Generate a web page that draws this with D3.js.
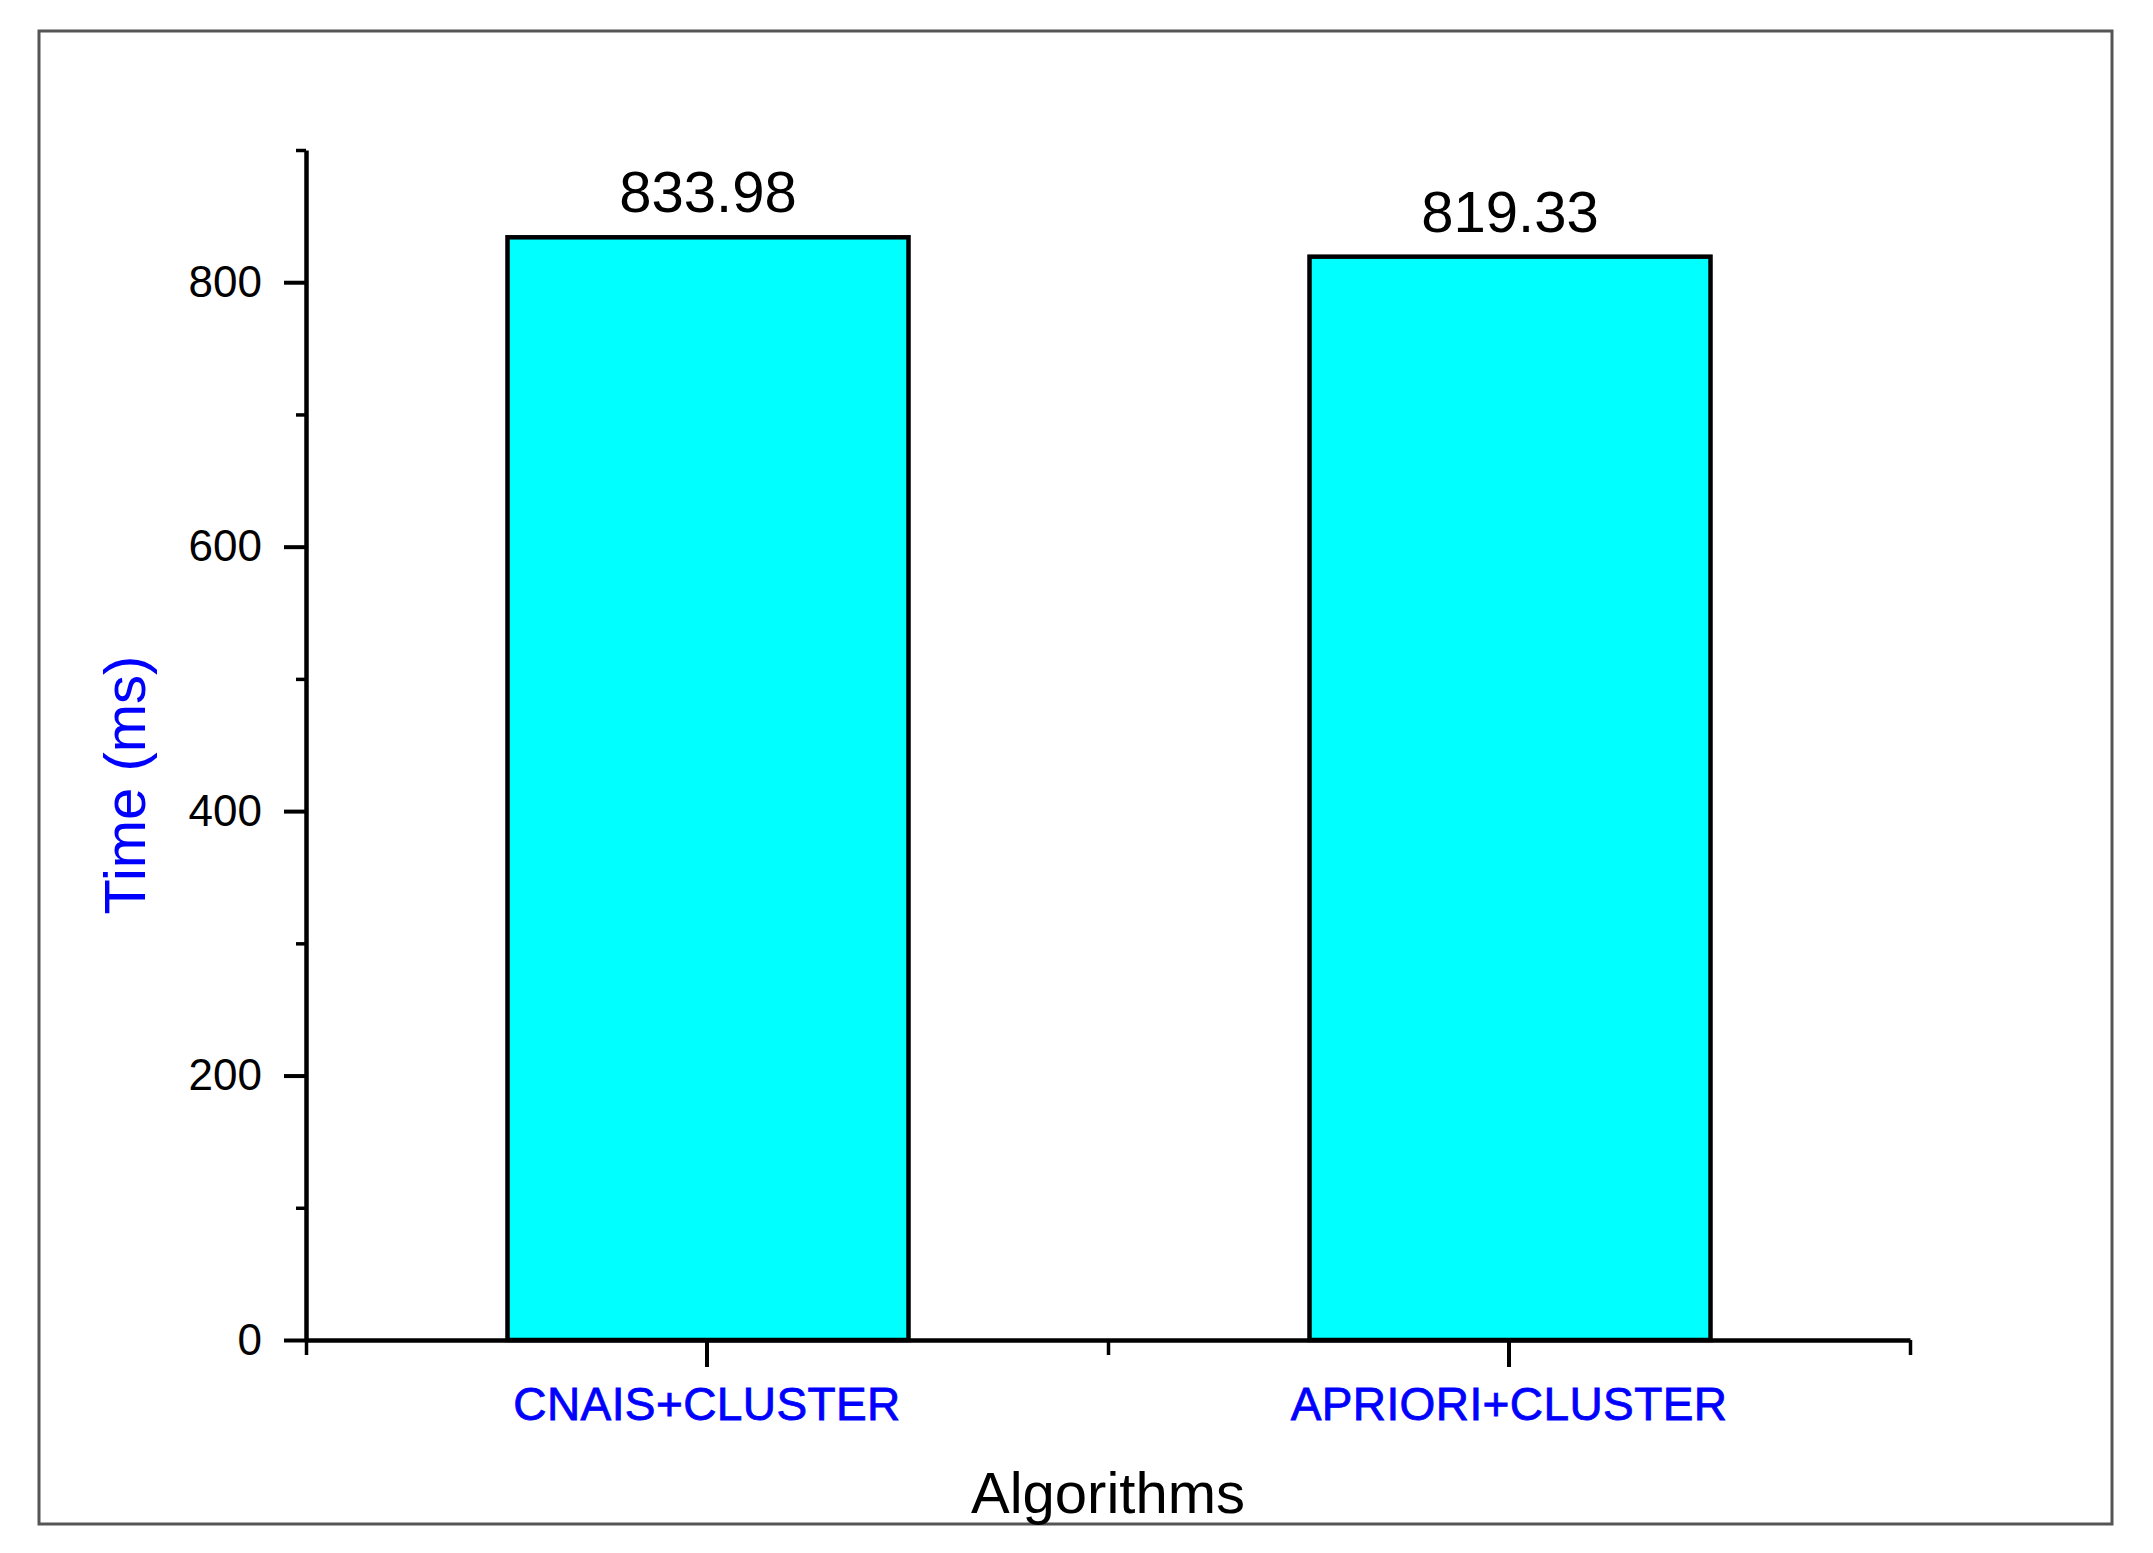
<!DOCTYPE html>
<html>
<head>
<meta charset="utf-8">
<script src="https://cdn.jsdelivr.net/npm/d3@7"></script>
<style>
  html, body { margin: 0; padding: 0; background: #fff; }
  svg { display: block; font-family: "Liberation Sans", Arial, sans-serif; }
</style>
</head>
<body>
<svg id="chart" width="2153" height="1553"></svg>
<script>
const categories = ["CNAIS+CLUSTER", "APRIORI+CLUSTER"];
const timeValues = [833.98, 819.33];
const valueLabels = ["833.98", "819.33"];
const majorTicks = [0, 200, 400, 600, 800];
const minorTicks = [100, 300, 500, 700, 900];
const xTitle = "Algorithms";
const yTitle = "Time (ms)";

(function () {
const svg = d3.select("#chart");
const W = 2153, H = 1553;
svg.append("rect").attr("width", W).attr("height", H).attr("fill", "#fff");

// outer frame
svg.append("rect")
  .attr("x", 39).attr("y", 31).attr("width", 2112 - 39).attr("height", 1524 - 31)
  .attr("fill", "none").attr("stroke", "#555").attr("stroke-width", 3);

const pLeft = 306, pRight = 1910, pTop = 150, pBottom = 1340;

const x = d3.scaleBand().domain(categories).range([pLeft, pRight]).paddingInner(0).paddingOuter(0);
const y = d3.scaleLinear().domain([0, 900]).range([pBottom, pTop]);

const barW = x.bandwidth() / 2;

// bars
svg.append("g").selectAll("rect")
  .data(categories)
  .join("rect")
  .attr("x", d => x(d) + x.bandwidth() / 2 - barW / 2 + 1)
  .attr("y", (d, i) => y(timeValues[i]))
  .attr("width", barW)
  .attr("height", (d, i) => y(0) - y(timeValues[i]))
  .attr("fill", "#00FFFF")
  .attr("stroke", "#000")
  .attr("stroke-width", 4.5);

// value labels
svg.append("g").selectAll("text")
  .data(categories)
  .join("text")
  .attr("x", d => x(d) + x.bandwidth() / 2 + 1)
  .attr("y", (d, i) => y(timeValues[i]) - 25)
  .attr("text-anchor", "middle")
  .attr("font-size", 58)
  .attr("fill", "#000")
  .text((d, i) => valueLabels[i]);

// y axis minor ticks
const yMinor = svg.append("g").attr("transform", `translate(${pLeft},0)`)
  .call(d3.axisLeft(y).tickValues(minorTicks).tickSize(10).tickSizeOuter(0).tickFormat(""));
yMinor.select(".domain").remove();
yMinor.selectAll("line").attr("stroke", "#000").attr("stroke-width", 3.5);

// y axis major
const yAxis = svg.append("g").attr("transform", `translate(${pLeft},0)`)
  .call(d3.axisLeft(y).tickValues(majorTicks).tickSize(22).tickPadding(22).tickSizeOuter(0));
yAxis.select(".domain").attr("stroke", "#000").attr("stroke-width", 4.5);
yAxis.selectAll(".tick line").attr("stroke", "#000").attr("stroke-width", 4);
yAxis.selectAll("text").attr("font-size", 44).attr("fill", "#000")
  .attr("font-family", "Liberation Sans, Arial, sans-serif");

// x axis minor ticks at band boundaries
const xb = d3.scaleLinear().domain([0, categories.length]).range([pLeft, pRight]);
const boundaries = d3.range(categories.length + 1);
const xMinor = svg.append("g").attr("transform", `translate(0,${pBottom})`)
  .call(d3.axisBottom(xb).tickValues(boundaries).tickSize(15).tickSizeOuter(0).tickFormat(""));
xMinor.select(".domain").remove();
xMinor.selectAll("line").attr("stroke", "#000").attr("stroke-width", 3.5);

// x axis major
const xAxis = svg.append("g").attr("transform", `translate(0,${pBottom})`)
  .call(d3.axisBottom(x).tickSize(27).tickSizeOuter(0));
xAxis.select(".domain").attr("stroke", "#000").attr("stroke-width", 4.5);
xAxis.selectAll(".tick line").attr("stroke", "#000").attr("stroke-width", 4);
xAxis.selectAll("text")
  .attr("y", 80).attr("dy", 0)
  .attr("font-size", 46).attr("fill", "#0000FF")
  .attr("stroke", "#0000FF").attr("stroke-width", 0.8)
  .attr("letter-spacing", 0.4)
  .attr("font-family", "Liberation Sans, Arial, sans-serif");

// axis titles
svg.append("text")
  .attr("x", (pLeft + pRight) / 2).attr("y", 1513)
  .attr("text-anchor", "middle").attr("font-size", 58).attr("fill", "#000")
  .text(xTitle);

svg.append("text")
  .attr("transform", `translate(145,785) rotate(-90)`)
  .attr("text-anchor", "middle").attr("font-size", 58).attr("fill", "#0000FF")
  .text(yTitle);
})();
</script>
</body>
</html>
